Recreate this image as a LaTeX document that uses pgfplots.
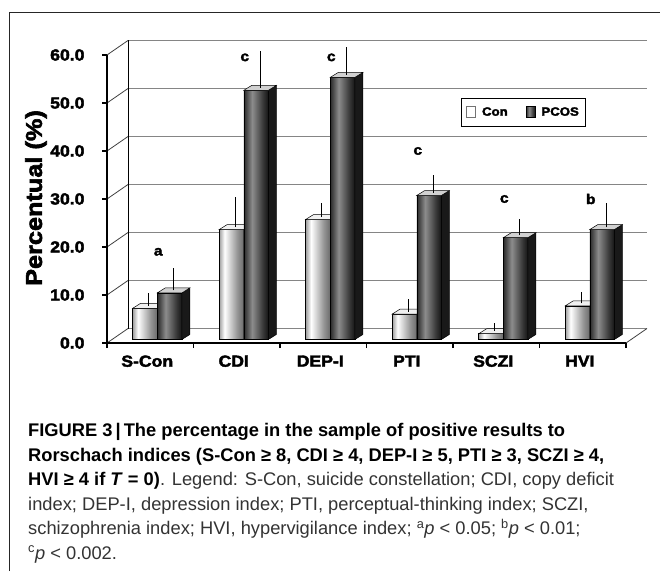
\documentclass[border=0pt]{standalone}
\usepackage{fontspec}
\setmainfont{Liberation Sans}
\newfontfamily\chartfont{Liberation Sans}[FakeStretch=1.1, BoldFeatures={FakeBold=2.5}]
\usepackage{pgfplots}
\usepackage{pgfplotstable}
\pgfplotsset{compat=1.18}

\definecolor{gridgray}{HTML}{858585}
\definecolor{captxt}{HTML}{333333}

\pgfdeclarehorizontalshading{conshade}{100bp}{color(0bp)=(black!38); color(25bp)=(black!38); color(36bp)=(white); color(62bp)=(black!42); color(75bp)=(black!58); color(100bp)=(black!58)}
\pgfdeclarehorizontalshading{pcosshade}{100bp}{color(0bp)=(black!84); color(25bp)=(black!84); color(42bp)=(black!45); color(64bp)=(black!78); color(75bp)=(black!92); color(100bp)=(black!92)}
\pgfdeclareplotmark{nothing}{}

% category position, percentage, upper error
\pgfplotstableread{
x   y     err
0.5 6.5   3.2
1.5 22.9  6.8
2.5 25.0  3.5
3.5 5.3   3.1
4.5 1.2   2.2
5.5 7.0   2.9
}\con
\pgfplotstableread{
x   y     err
0.5 9.7   5.1
1.5 51.9  8.1
2.5 54.6  6.3
3.5 30.0  4.3
4.5 21.2  4.0
5.5 22.9  5.5
}\pcos

% #1 offset (pt) of the front face centre, #2 front shading, #3 top colour
\pgfplotsset{
  bar3d/.style n args={3}{%
    scatter, only marks, mark=nothing,
    visualization depends on={\thisrow{y} \as \barval},
    visualization depends on={\thisrow{err} \as \errval},
    scatter/@pre marker code/.code={%
      \begingroup
        \pgfkeys{/pgf/fpu=true,/pgf/fpu/output format=fixed}%
        \pgfmathparse{3.5-\barval*4.8}\let\ybase\pgfmathresult
        \pgfmathparse{8.5-\barval*4.8}\let\ybaseb\pgfmathresult
        \pgfmathparse{3.5+\errval*4.8}\let\ytip\pgfmathresult
        \pgfmathparse{#1-12.3}\let\xa\pgfmathresult
        \pgfmathparse{#1+12.3}\let\xb\pgfmathresult
        \pgfmathparse{#1+20.3}\let\xc\pgfmathresult
        \pgfmathparse{#1-4.3}\let\xd\pgfmathresult
        \pgfmathparse{#1+4}\let\xe\pgfmathresult
        \pgfkeys{/pgf/fpu=false}%
        \shadedraw[shading=#2, draw=black, line width=0.5pt] (\xa pt,3.5pt) rectangle (\xb pt,\ybase pt);
        \filldraw[fill=black!90, draw=black, line width=0.5pt] (\xb pt,3.5pt) -- (\xc pt,8.5pt) -- (\xc pt,\ybaseb pt) -- (\xb pt,\ybase pt) -- cycle;
        \filldraw[fill=#3, draw=black, line width=0.5pt] (\xa pt,3.5pt) -- (\xd pt,8.5pt) -- (\xc pt,8.5pt) -- (\xb pt,3.5pt) -- cycle;
        \draw[black, line width=1pt] (\xe pt,6pt) -- (\xe pt,\ytip pt);
      \endgroup
    },
    scatter/@post marker code/.code={},
  },
}

\begin{document}
\begin{tikzpicture}
\useasboundingbox (0,0) rectangle (660pt,571pt);

% walls, grid and front edges
\begin{axis}[
  at={(107pt,228pt)}, anchor=south west, scale only axis,
  width=519pt, height=288pt,
  xmin=0, xmax=6, ymin=0, ymax=60,
  hide axis, clip=false,
  after end axis/.code={
    \foreach \yy in {0,10,...,60}{
      \draw[gridgray, line width=1.3pt] ([shift={(21pt,14.5pt)}]axis cs:0,\yy) -- ([shift={(21pt,14.5pt)}]axis cs:6,\yy);
      \draw[black!75, line width=0.8pt] (axis cs:0,\yy) -- ++(21pt,14.5pt);
    }
    \draw[black, line width=1pt] ([shift={(21pt,14.5pt)}]axis cs:0,0) -- ([shift={(21pt,14.5pt)}]axis cs:0,60);
    \draw[black!75, line width=0.8pt] (axis cs:6,0) -- ++(21pt,14.5pt);
    \draw[black, line width=1.3pt] (axis cs:0,60) -- (axis cs:0,0) -- (axis cs:6,0);
  }]
\end{axis}

\begin{axis}[
  at={(107pt,228pt)}, anchor=south west, scale only axis,
  width=519pt, height=288pt,
  xmin=0, xmax=6, ymin=0, ymax=60, clip=false,
  axis line style={draw=none},
  tick pos=left, tick align=outside, major tick length=5pt,
  tick style={black, line width=1.1pt},
  ytick={0,10,...,60},
  xtick={0,...,6}, xticklabels={},
  extra x ticks={0.5,1.5,...,5.5},
  extra x tick labels={S-Con,CDI,DEP-I,PTI,SCZI,HVI},
  extra x tick style={major tick length=0pt},
  /pgf/number format/assume math mode=true,
  yticklabel style={/pgf/number format/fixed, /pgf/number format/fixed zerofill,
    /pgf/number format/precision=1, xshift=-14pt,
    font=\chartfont\bfseries\fontsize{16}{16}\selectfont},
  xticklabel style={yshift=-9pt, xshift=-3pt, font=\chartfont\bfseries\fontsize{16}{16}\selectfont},
  legend columns=2,
  legend style={at={(axis description cs:0.682,0.851)}, anchor=north west,
    draw=black, line width=0.8pt, fill=white,
    font=\chartfont\bfseries\fontsize{12}{12}\selectfont,
    inner xsep=5pt, inner ysep=7pt,
    /tikz/every odd column/.append style={column sep=4pt},
    /tikz/every even column/.append style={column sep=16pt}},
]
\addplot[bar3d={-5.3}{conshade}{black!6},
  legend image code/.code={\draw[black!55, fill=white, line width=0.7pt] (0pt,-5.5pt) rectangle (9pt,5.5pt);}]
  table[x=x, y=y] {\con};
\addlegendentry{Con}
\addplot[bar3d={19.3}{pcosshade}{black!18},
  legend image code/.code={\shadedraw[shading=pcosshade, draw=black, line width=0.7pt] (0pt,-5.5pt) rectangle (9pt,5.5pt);}]
  table[x=x, y=y] {\pcos};
\addlegendentry{PCOS}
\addplot[draw=none, mark=none, forget plot, nodes near coords, point meta=explicit symbolic,
  nodes near coords style={anchor=center, xshift=8pt,
    font=\chartfont\bfseries\fontsize{14}{14}\selectfont}]
  coordinates {(0.5,19)[a] (1.5,59.5)[c] (2.5,59.5)[c] (3.5,40)[c] (4.5,30)[c] (5.5,30)[b]};
\end{axis}

% y axis title
\node[rotate=90, anchor=center, inner sep=0pt, font=\chartfont\bfseries\fontsize{23}{23}\selectfont]
  at (36pt,373pt) {Percentual (\%)};

\draw[black!85, line width=1.3pt] (9.5pt,0pt) -- (9.5pt,558.5pt) -- (660pt,558.5pt);

\begin{scope}[every node/.style={anchor=base west, inner sep=0pt, text=captxt,
    font=\fontsize{18.3}{22}\selectfont}]
\node at (28pt,134.5pt) {\color{black}\bfseries FIGURE 3\,|\,The percentage in the sample of positive results to};
\node at (28pt,110pt) {\color{black}\bfseries Rorschach indices (S-Con ≥ 8, CDI ≥ 4, DEP-I ≥ 5, PTI ≥ 3, SCZI ≥ 4,};
\node at (28pt,85.5pt) {{\color{black}\bfseries HVI ≥ 4 if \textit{T} = 0)}. Legend: S-Con, suicide constellation; CDI, copy deficit};
\node at (28pt,61pt) {index; DEP-I, depression index; PTI, perceptual-thinking index; SCZI,};
\node at (28pt,36.5pt) {schizophrenia index; HVI, hypervigilance index; \textsuperscript{a}\textit{p} < 0.05; \textsuperscript{b}\textit{p} < 0.01;};
\node at (28pt,12pt) {\textsuperscript{c}\textit{p} < 0.002.};
\end{scope}
\end{tikzpicture}
\end{document}
